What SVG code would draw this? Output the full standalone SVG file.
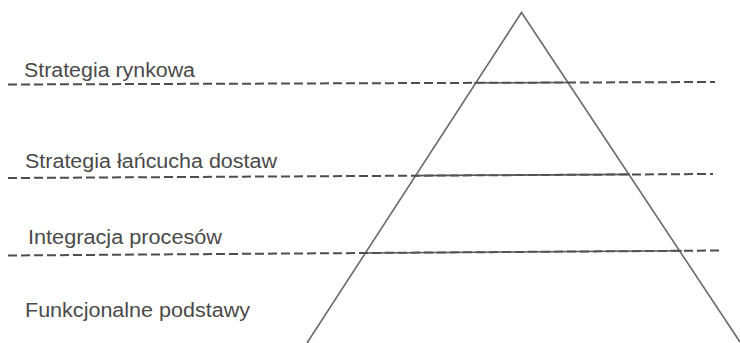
<svg xmlns="http://www.w3.org/2000/svg" width="740" height="343" viewBox="0 0 740 343">
<style>
.lbl{font-family:"Liberation Sans",Arial,sans-serif;font-size:20px;fill:#4a4a4a}
.dash{stroke:#4d4d4d;stroke-width:2;stroke-dasharray:9 4;fill:none}
.solid{stroke:#555;stroke-width:1.6;fill:none}
.edge{stroke:#6a6a6a;stroke-width:1.6;fill:none}
</style>
<rect width="740" height="343" fill="#fff"/>
<g id="pyramid">
<polyline class="edge" points="307,343 521.5,12.5 740,342"/>
</g>
<g id="connectors">
<line class="dash" x1="8" y1="84.5" x2="715" y2="82"/>
<line class="solid" x1="474" y1="82.8" x2="568" y2="82.5"/>
<line class="dash" x1="8" y1="178" x2="713" y2="174"/>
<line class="solid" x1="415.5" y1="175.6" x2="630" y2="174.4"/>
<line class="dash" x1="8" y1="255.5" x2="722" y2="250.5"/>
<line class="solid" x1="366.5" y1="253" x2="682" y2="250.8"/>
</g>
<g id="level1"><text class="lbl" x="24" y="77" textLength="171" lengthAdjust="spacingAndGlyphs">Strategia rynkowa</text></g>
<g id="level2"><text class="lbl" x="25" y="168" textLength="252" lengthAdjust="spacingAndGlyphs">Strategia łańcucha dostaw</text></g>
<g id="level3"><text class="lbl" x="28" y="244" textLength="194" lengthAdjust="spacingAndGlyphs">Integracja procesów</text></g>
<g id="level4"><text class="lbl" x="25" y="317" textLength="225" lengthAdjust="spacingAndGlyphs">Funkcjonalne podstawy</text></g>
</svg>
